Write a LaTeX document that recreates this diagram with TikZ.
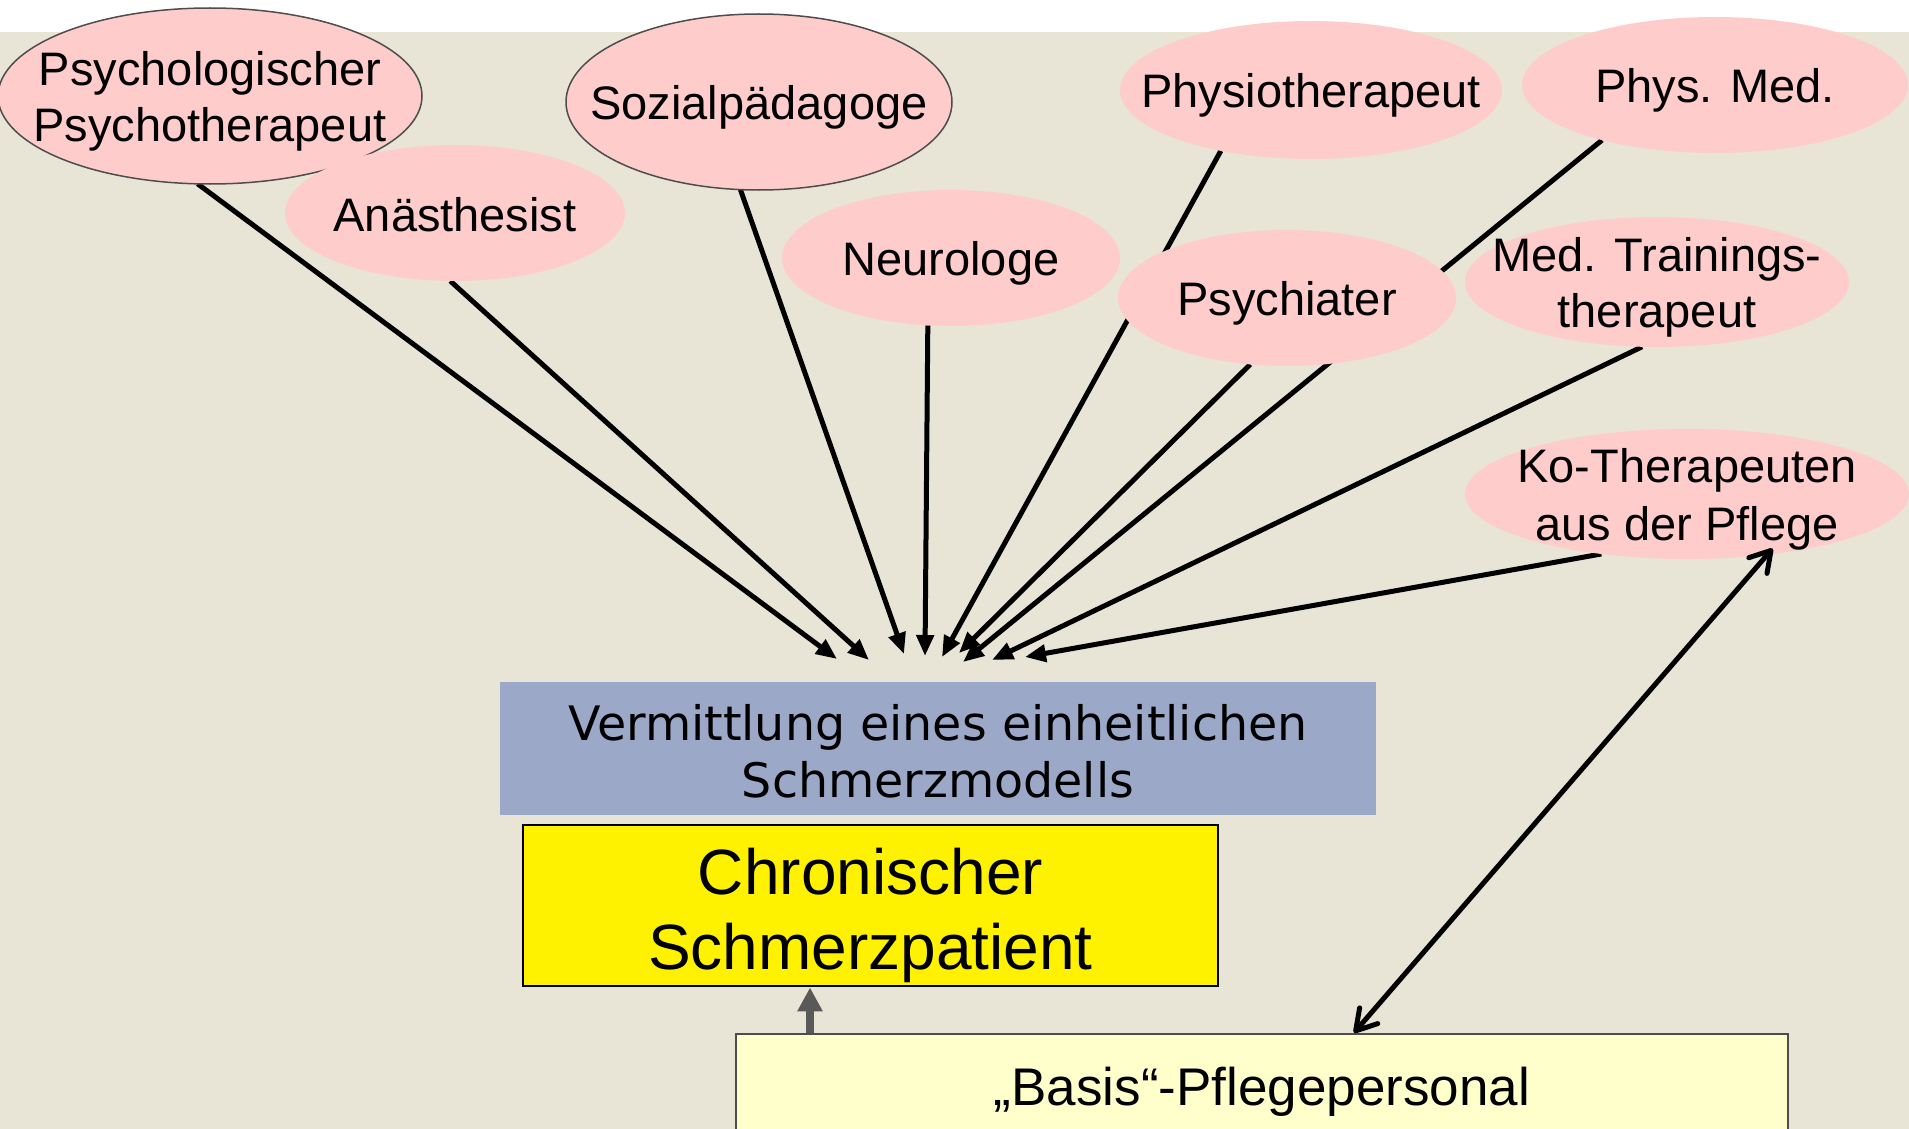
\documentclass[tikz,border=0pt]{standalone}
\usepackage{fontspec}
\setmainfont{Liberation Sans}
\newfontfamily\breitfont{DejaVu Sans}
\usetikzlibrary{shapes.geometric,arrows.meta,backgrounds}

\definecolor{beige}{RGB}{232,229,214}
\definecolor{rosa}{RGB}{255,204,204}
\definecolor{graublau}{RGB}{155,168,200}
\definecolor{hellgelb}{RGB}{255,255,204}
\definecolor{pfeilgrau}{RGB}{89,89,89}
\definecolor{randgrau}{RGB}{77,77,77}

\begin{document}
\begin{tikzpicture}[x=1pt,y=-1pt,
  rolle/.style={ellipse,fill=rosa,inner sep=0pt,outer sep=0pt},
  rtext/.style={font=\fontsize{47}{56}\selectfont,align=center,inner sep=0pt,yshift=-5pt},
  pfeil/.style={line width=5pt,-{Triangle[length=21pt,width=17pt]}},
  doppel/.style={line width=5pt,{Straight Barb[length=20pt,width=24pt,round]}-{Straight Barb[length=20pt,width=24pt,round]}},
  grau/.style={pfeilgrau,line width=8pt,-{Triangle[length=24pt,width=24pt]}}]
  \useasboundingbox (0,0) rectangle (1909,1129);
  \clip (0,0) rectangle (1909,1129);

  \node[rolle,draw=randgrau,line width=1.5pt,minimum width=424pt,minimum height=176pt,label={[rtext]center:Psychologischer\\Psychotherapeut}] (psy) at (210,96) {};
  \node[rolle,minimum width=340pt,minimum height=136pt,label={[rtext,yshift=3pt]center:Anästhesist}] (anae) at (455,213) {};
  \node[rolle,draw=randgrau,line width=1.5pt,minimum width=386pt,minimum height=176pt,label={[rtext]center:Sozialpädagoge}] (sozial) at (759,102) {};
  \node[rolle,minimum width=338pt,minimum height=136pt,label={[rtext]center:Neurologe}] (neuro) at (951,258) {};
  \node[rolle,minimum width=382pt,minimum height=138pt,label={[rtext]center:Physiotherapeut}] (physio) at (1311,90) {};
  \node[rolle,minimum width=386pt,minimum height=136pt,label={[rtext]center:Phys. Med.}] (physmed) at (1715,85) {};
  \node[rolle,minimum width=338pt,minimum height=136pt,label={[rtext]center:Psychiater}] (psychiater) at (1287,298) {};
  \node[rolle,minimum width=384pt,minimum height=130pt,label={[rtext]center:Med. Trainings-\\therapeut}] (medtrain) at (1657,282) {};
  \node[rolle,minimum width=444pt,minimum height=130pt,label={[rtext,font=\fontsize{47}{58}\selectfont]center:Ko-Therapeuten\\aus der Pflege}] (ko) at (1687,494) {};

  \node[fill=graublau,minimum width=876pt,minimum height=133pt,text height=99pt,align=center,font=\breitfont\fontsize{47.5}{57}\selectfont] (modell) at (938,748) {Vermittlung eines einheitlichen\\Schmerzmodells};
  \node[draw=black,line width=2pt,fill=yellow,minimum width=695pt,minimum height=159pt,text height=142pt,align=center,font=\fontsize{64}{75}\selectfont] (chron) at (870.5,905.5) {Chronischer\\Schmerzpatient};
  \node[draw=randgrau,line width=2.5pt,fill=hellgelb,minimum width=1052pt,minimum height=106pt,text height=47pt,font=\fontsize{53}{64}\selectfont] (basis) at (1262,1087) {„Basis“-Pflegepersonal};

  \coordinate (zpsy) at (837,659);
  \coordinate (zanae) at (869,660);
  \coordinate (zsozial) at (904,654);
  \coordinate (zneuro) at (925,656);
  \coordinate (zphysio) at (942,657);
  \coordinate (zpsychiater) at (959,653);
  \coordinate (zphysmed) at (963,662);
  \coordinate (zmedtrain) at (992,660);
  \coordinate (zko) at (1025,657);

  \begin{pgfonlayer}{background}
    \fill[beige] (0,32) rectangle (1909,1129);
    \draw[pfeil] (psy.-98) -- (zpsy);
    \draw[pfeil] (anae.-94) -- (zanae);
    \draw[pfeil] (sozial.-102) -- (zsozial);
    \draw[pfeil] (neuro.-109) -- (zneuro);
    \draw[pfeil] (physio.-146) -- (zphysio);
    \draw[pfeil] (physmed.-154) -- (zphysmed);
    \draw[pfeil] (psychiater.-119) -- (zpsychiater);
    \draw[pfeil] (medtrain.-103) -- (zmedtrain);
    \draw[pfeil] (ko.-145) -- (zko);
  \end{pgfonlayer}

  \draw[doppel,shorten <=-8pt] (ko.-37) -- ([xshift=92pt]basis.north);
  \draw[grau] ([xshift=-452pt]basis.north) -- ([xshift=-452pt]basis.north |- chron.south);

\end{tikzpicture}
\end{document}
